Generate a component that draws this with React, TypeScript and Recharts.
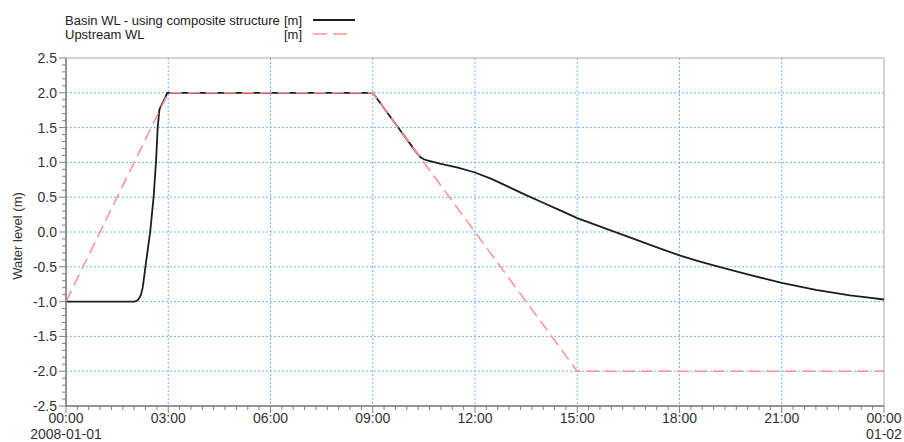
import React from 'react';
import { LineChart, Line, XAxis, YAxis, CartesianGrid, ReferenceArea } from 'recharts';

// Time in hours from 2008-01-01 00:00
const basinTime = [0, 2.0, 2.05, 2.1, 2.15, 2.2, 2.25, 2.3, 2.33, 2.4, 2.47, 2.52, 2.57, 2.64, 2.69, 2.74, 2.8, 2.9, 2.97, 9.0, 10.3, 10.4, 10.5, 10.6, 10.8, 11, 11.5, 12, 12.5, 13, 13.5, 14, 14.5, 15, 15.5, 16, 16.5, 17, 17.5, 18, 18.5, 19, 19.5, 20, 20.5, 21, 21.5, 22, 22.5, 23, 23.5, 24];
const basinLevel = [-1, -1, -0.995, -0.98, -0.95, -0.9, -0.8, -0.62, -0.5, -0.25, 0.0, 0.25, 0.5, 1.0, 1.5, 1.76, 1.82, 1.92, 2.0, 2.0, 1.13, 1.075, 1.045, 1.03, 1.005, 0.98, 0.925, 0.855, 0.76, 0.645, 0.53, 0.42, 0.31, 0.20, 0.11, 0.02, -0.07, -0.16, -0.25, -0.335, -0.41, -0.48, -0.545, -0.61, -0.67, -0.73, -0.78, -0.83, -0.87, -0.91, -0.94, -0.97];

const upstreamTime = [0, 3, 9, 15, 24];
const upstreamLevel = [-1, 2, 2, -2, -2];

const xMajorTicks = [0, 3, 6, 9, 12, 15, 18, 21, 24];
const xTickLabels = ['00:00', '03:00', '06:00', '09:00', '12:00', '15:00', '18:00', '21:00', '00:00'];
const xTickSubLabels: Record<number, string> = { 0: '2008-01-01', 24: '01-02' };
const yMajorTicks = [-2.5, -2, -1.5, -1, -0.5, 0, 0.5, 1, 1.5, 2, 2.5];
const yTickLabels = ['-2.5', '-2.0', '-1.5', '-1.0', '-0.5', '0.0', '0.5', '1.0', '1.5', '2.0', '2.5'];
const gridY = [-2, -1.5, -1, -0.5, 0, 0.5, 1, 1.5, 2];
const gridX = [3, 6, 9, 12, 15, 18, 21];

const xMinorTicks: number[] = [];
for (let i = 0; i <= 72; i++) xMinorTicks.push(Math.round(i * 1000 / 3) / 1000);
const yMinorTicks: number[] = [];
for (let i = -25; i <= 25; i++) yMinorTicks.push(i / 10);

const times = Array.from(new Set([...basinTime, ...upstreamTime])).sort((a, b) => a - b);
const data = times.map((t) => {
  const bi = basinTime.indexOf(t);
  const ui = upstreamTime.indexOf(t);
  return {
    t,
    basin: bi >= 0 ? basinLevel[bi] : null,
    upstream: ui >= 0 ? upstreamLevel[ui] : null,
  };
});

const TEXT = '#333333';
const FONT = '"Liberation Sans", Arial, sans-serif';

const XTick = (props: any) => {
  const { x, y, payload } = props;
  const v = payload.value;
  const idx = xMajorTicks.findIndex((m) => Math.abs(m - v) < 1e-3);
  if (idx < 0) {
    return <line x1={x} x2={x} y1={y} y2={y + 4} stroke="#808080" strokeWidth={1} />;
  }
  const sub = xTickSubLabels[xMajorTicks[idx]];
  return (
    <g>
      <line x1={x} x2={x} y1={y} y2={y + 7} stroke="#808080" strokeWidth={1} />
      <text x={x} y={y + 17.2} textAnchor="middle" fontSize={14} fill={TEXT} fontFamily={FONT}>
        {xTickLabels[idx]}
      </text>
      {sub ? (
        <text x={x} y={y + 33} textAnchor="middle" fontSize={14} fill={TEXT} fontFamily={FONT}>
          {sub}
        </text>
      ) : null}
    </g>
  );
};

const YTick = (props: any) => {
  const { x, y, payload } = props;
  const v = payload.value;
  const idx = yMajorTicks.findIndex((m) => Math.abs(m - v) < 1e-6);
  if (idx < 0) {
    return <line x1={x - 4} x2={x} y1={y} y2={y} stroke="#808080" strokeWidth={1} />;
  }
  return (
    <g>
      <line x1={x - 7} x2={x} y1={y} y2={y} stroke="#808080" strokeWidth={1} />
      <text x={x - 9} y={y + 5} textAnchor="end" fontSize={14} fill={TEXT} fontFamily={FONT}>
        {yTickLabels[idx]}
      </text>
    </g>
  );
};

const YLabel = (props: any) => {
  const vb = props.viewBox || { x: 0, y: 58, width: 66, height: 348 };
  const cx = 19;
  const cy = vb.y + vb.height / 2 + 4;
  return (
    <text x={cx} y={cy} transform={`rotate(-90, ${cx}, ${cy})`} textAnchor="middle" dominantBaseline="middle" fontSize={13} fill={TEXT} fontFamily={FONT}>
      Water level (m)
    </text>
  );
};

export default function App() {
  return (
    <div style={{ position: 'absolute', left: 0, top: 0, width: 904, height: 442, background: '#fff', fontFamily: FONT }}>
      <LineChart width={904} height={442} data={data} margin={{ top: 58, right: 20, bottom: 6, left: 0 }}>
        <CartesianGrid stroke="#6fb4ff" strokeDasharray="2 2" strokeWidth={1} horizontalValues={gridY} verticalValues={gridX} />
        <ReferenceArea x1={0} x2={24} y1={-2.5} y2={2.5} fill="none" stroke="#a8a8a8" strokeWidth={1} />
        <XAxis
          dataKey="t"
          type="number"
          domain={[0, 24]}
          ticks={xMinorTicks}
          interval={0}
          tick={<XTick />}
          tickLine={false}
          tickSize={0}
          tickMargin={0}
          height={30}
          axisLine={{ stroke: '#808080', strokeWidth: 1.5 }}
          allowDataOverflow
        />
        <YAxis
          type="number"
          domain={[-2.5, 2.5]}
          ticks={yMinorTicks}
          interval={0}
          tick={<YTick />}
          tickLine={false}
          tickSize={0}
          tickMargin={0}
          width={66}
          axisLine={{ stroke: '#808080', strokeWidth: 1.5 }}
          label={<YLabel />}
          allowDataOverflow
        />
        <Line type="linear" dataKey="basin" stroke="#1e1e1e" strokeWidth={1.8} dot={false} connectNulls isAnimationActive={false} />
        <Line type="linear" dataKey="upstream" stroke="#ff9090" strokeWidth={1.5} strokeDasharray="12 6" dot={false} connectNulls isAnimationActive={false} />
      </LineChart>
      <svg width={904} height={50} style={{ position: 'absolute', left: 0, top: 0, pointerEvents: 'none' }}>
        <text x={65} y={24.5} fontSize={13} fill="#222" fontFamily={FONT}>Basin WL - using composite structure</text>
        <text x={302} y={24.5} fontSize={13} fill="#222" fontFamily={FONT} textAnchor="end">[m]</text>
        <line x1={313} x2={355} y1={20} y2={20} stroke="#1e1e1e" strokeWidth={1.8} />
        <text x={65} y={39} fontSize={13} fill="#222" fontFamily={FONT}>Upstream WL</text>
        <text x={302} y={39} fontSize={13} fill="#222" fontFamily={FONT} textAnchor="end">[m]</text>
        <line x1={313} x2={353} y1={34} y2={34} stroke="#ff9090" strokeWidth={1.5} strokeDasharray="14 6" />
      </svg>
    </div>
  );
}
